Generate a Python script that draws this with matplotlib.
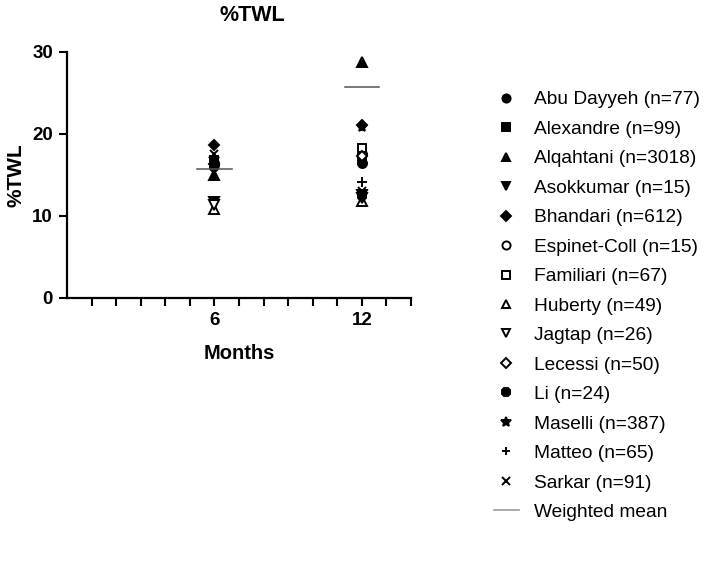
import numpy as np
import matplotlib.pyplot as plt

plt.rcParams['font.family'] = ['Liberation Sans', 'DejaVu Sans']

# -----------------------------
# Data
# -----------------------------
months = [6, 12]
studies = ["Abu Dayyeh (n=77)", "Alexandre (n=99)", "Alqahtani (n=3018)",
           "Asokkumar (n=15)", "Bhandari (n=612)", "Espinet-Coll (n=15)",
           "Familiari (n=67)", "Huberty (n=49)", "Jagtap (n=26)",
           "Lecessi (n=50)", "Li (n=24)", "Maselli (n=387)",
           "Matteo (n=65)", "Sarkar (n=91)"]
twl_6 = [16.5, 16.8, 15.0, 11.7, 18.7, 16.2, 16.6, 10.9, 11.4, 16.3, 16.0, 17.0, 16.0, 17.6]
twl_12 = [16.5, 16.8, 28.8, 12.6, 21.1, 17.6, 18.3, 11.8, 12.2, 17.3, 12.4, 20.8, 14.1, 13.1]
weighted_mean = [15.7, 25.7]

markers = ['o', 's', '^', 'v', 'D', 'o', 's', '^', 'v', 'D', '8', '*', '+', 'x']
filled = [True, True, True, True, True, False, False, False, False, False, True, True, True, True]
sizes = [6.5, 6, 6.5, 6.5, 5.5, 6.5, 6, 6.5, 6.5, 5.5, 6.5, 8, 7, 6]

fig = plt.figure(figsize=(7.09, 5.66), dpi=100)
ax = fig.add_axes([67 / 709, 1 - 298 / 566, 344 / 709, 246 / 566])

for i, name in enumerate(studies):
    ax.plot(months, [twl_6[i], twl_12[i]], ls='none', marker=markers[i],
            ms=sizes[i], color='black', mec='black',
            mfc='black' if filled[i] else 'white', mew=1.4,
            label=name, clip_on=False, zorder=3)

# weighted mean bars
for m, wm in zip(months, weighted_mean):
    ax.plot([m - 0.7, m + 0.7], [wm, wm], color='#555555', lw=1.1, zorder=4)

ax.set_xlim(0, 14)
ax.set_ylim(0, 30)
ax.set_xticks(range(1, 15), minor=True)
ax.set_xticks([6, 12])
ax.set_yticks([0, 10, 20, 30])
ax.tick_params(axis='both', which='both', direction='out', width=1.5, length=6,
               labelsize=13.5, pad=4)
for lab in ax.get_xticklabels() + ax.get_yticklabels():
    lab.set_fontweight('bold')
ax.spines['top'].set_visible(False)
ax.spines['right'].set_visible(False)
ax.spines['left'].set_linewidth(1.6)
ax.spines['bottom'].set_linewidth(1.6)

ax.set_xlabel("Months", fontsize=14.5, fontweight='bold', labelpad=11)
ax.set_ylabel("%TWL", fontsize=15, fontweight='bold', labelpad=5)
ax.set_title("%TWL", fontsize=15.5, fontweight='bold', x=0.54, pad=22)

# -----------------------------
# Legend on the right
# -----------------------------
leg_handles = []
for i in range(len(studies)):
    lh = plt.Line2D([], [], ls='none', marker=markers[i], ms=sizes[i] * 0.9,
                    color='black', mec='black',
                    mfc='black' if filled[i] else 'white', mew=1.4)
    leg_handles.append(lh)
leg_handles.append(plt.Line2D([], [], color='#999999', lw=1.2))
fig.legend(leg_handles, studies + ['Weighted mean'], loc='center left',
           bbox_to_anchor=(486 / 709, 1 - 306 / 566), frameon=False,
           fontsize=13.8, labelspacing=0.63, handlelength=1.3, handletextpad=0.8,
           borderpad=0.4, borderaxespad=0)

fig.savefig("out.png", dpi=100)
